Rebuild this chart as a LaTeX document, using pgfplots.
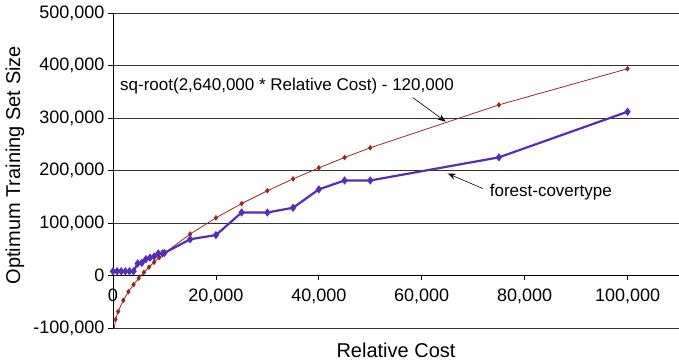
\documentclass[border=0pt]{standalone}
\usepackage{pgfplots}
\pgfplotsset{compat=1.18}
\usepackage{fontspec}
\setmainfont{Liberation Sans}
\usetikzlibrary{arrows.meta}
\definecolor{fcblue}{RGB}{85,45,185}
\definecolor{sqred}{RGB}{155,40,30}
\begin{document}
\begin{tikzpicture}
\begin{axis}[
 scale only axis, width=566pt, height=315pt,
 xmin=0, xmax=110000, ymin=-100000, ymax=500000,
 axis y line*=left, axis x line*=middle,
 hide obscured x ticks=false, hide obscured y ticks=false,
 xtick={0,20000,40000,60000,80000,100000},
 xticklabels={{0},{20,000},{40,000},{60,000},{80,000},{100,000}},
 ytick={-100000,0,100000,200000,300000,400000,500000},
 yticklabels={{-100,000},{0},{100,000},{200,000},{300,000},{400,000},{500,000}},
 ymajorgrids, major grid style={black!80, line width=0.7pt},
 axis line style={black, line width=0.9pt},
 tick style={black, line width=0.8pt},
 tick align=outside, major tick length=5pt,
 scaled ticks=false,
 ticklabel style={font=\fontsize{18}{20}\selectfont},
 xticklabel style={yshift=-5pt},
 label style={font=\fontsize{20}{24}\selectfont},
 xlabel={Relative Cost}, ylabel={Optimum Training Set Size},
 xlabel style={at={(axis description cs:0.5,-0.07)}, anchor=center},
 ylabel style={at={(axis description cs:-0.173,0.517)}, anchor=center},
]
\addplot[sqred, line width=0.8pt, mark=diamond*, mark size=2.2pt] coordinates {
(0,-120000) (500,-83700) (1000,-68600) (2000,-47300) (3000,-31000) (4000,-17200)
(5000,-5100) (6000,5900) (7000,15900) (8000,25300) (9000,34100) (10000,42500)
(15000,79000) (20000,109800) (25000,136900) (30000,161400) (35000,184000)
(40000,205000) (45000,224700) (50000,243300) (75000,325000) (100000,393800)
};
\addplot[fcblue, line width=2.2pt, mark=diamond*, mark size=2.4pt] coordinates {
(0,8000) (800,8000) (1600,8000) (2400,8000) (3200,8000) (4000,8000)
(4800,23000) (5600,24000) (6400,31000) (7200,34000) (8000,36000)
(8800,42000) (9600,42000) (10000,43000)
(15000,69000) (20000,77000) (25000,120000) (30000,120000) (35000,129000)
(40000,164000) (45000,181000) (50000,181000) (75000,225000) (100000,312000)
};
\node[anchor=west, font=\fontsize{17}{20}\selectfont, inner sep=0pt] at (axis cs:1360,360000) {sq-root(2,640,000 * Relative Cost) - 120,000};
\draw[-{Stealth[length=8pt,width=6pt]}, line width=0.6pt] (axis cs:58250,339000) -- (axis cs:64660,293000);
\node[anchor=west, font=\fontsize{17}{20}\selectfont, inner sep=0pt] at (axis cs:73200,158000) {forest-covertype};
\draw[-{Stealth[length=8pt,width=6pt]}, line width=0.6pt] (axis cs:71845,165700) -- (axis cs:65050,194300);
\end{axis}
\pgfresetboundingbox
\path[use as bounding box] (-113pt,-35pt) rectangle (566pt,328pt);
\end{tikzpicture}
\end{document}
